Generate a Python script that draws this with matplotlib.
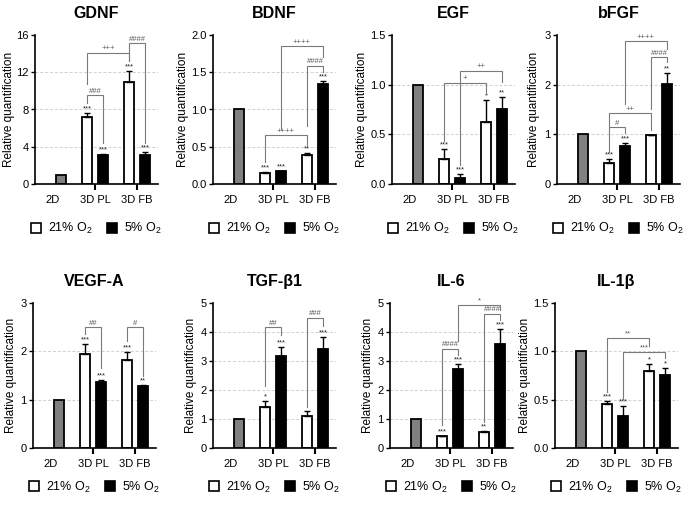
import matplotlib
matplotlib.use('Agg')
import matplotlib.pyplot as plt
from matplotlib.patches import Patch
import numpy as np

plt.rcParams['font.family'] = ['Liberation Sans', 'DejaVu Sans']
plt.rcParams['mathtext.fontset'] = 'custom'
plt.rcParams['mathtext.rm'] = 'Liberation Sans'
plt.rcParams['mathtext.it'] = 'Liberation Sans:italic'

# ---------------- data ----------------
groups = ['2D', '3D PL', '3D FB']
legend_labels = ['21% O$_2$', '5% O$_2$']
titles = ['GDNF', 'BDNF', 'EGF', 'bFGF', 'VEGF-A', 'TGF-β1', 'IL-6', 'IL-1β']
y_max = [16, 2.0, 1.5, 3, 3, 5, 5, 1.5]
y_step = [4, 0.5, 0.5, 1, 1, 1, 1, 0.5]

ctrl_2d = [1.0, 1.0, 1.0, 1.01, 1.0, 1.0, 1.0, 1.0]
o21_mean = [[7.15, 10.95], [0.145, 0.395], [0.25, 0.626], [0.43, 0.98],
            [1.95, 1.82], [1.43, 1.12], [0.40, 0.55], [0.455, 0.80]]
o21_err = [[0.5, 1.2], [0.02, 0.015], [0.10, 0.215], [0.07, 0.01],
           [0.20, 0.17], [0.19, 0.17], [0.02, 0.05], [0.035, 0.065]]
o5_mean = [[3.12, 3.12], [0.175, 1.34], [0.06, 0.757], [0.77, 2.02],
           [1.36, 1.28], [3.16, 3.41], [2.74, 3.60], [0.33, 0.76]]
o5_err = [[0.08, 0.3], [0.005, 0.045], [0.04, 0.12], [0.05, 0.22],
          [0.05, 0.03], [0.31, 0.41], [0.16, 0.50], [0.10, 0.07]]
o21_stars = [['***', '***'], ['***', '**'], ['***', '*'], ['***', ''],
             ['***', '***'], ['*', ''], ['***', '**'], ['***', '*']]
o5_stars = [['***', '***'], ['***', '***'], ['***', '**'], ['***', '**'],
            ['***', '**'], ['***', '***'], ['***', '***'], ['***', '*']]

# brackets: (bar a, bar b, label)  bars: 1=PL 21%, 2=PL 5%, 3=FB 21%, 4=FB 5%
bracket_pairs = [
    [(1, 2, '###'), (3, 4, '####'), (1, 3, '+++')],
    [(1, 3, '++++'), (3, 4, '####'), (2, 4, '++++')],
    [(1, 3, '+'), (2, 4, '++')],
    [(1, 2, '#'), (1, 3, '++'), (3, 4, '####'), (2, 4, '++++')],
    [(1, 2, '##'), (3, 4, '#')],
    [(1, 2, '##'), (3, 4, '###')],
    [(1, 2, '####'), (3, 4, '####'), (2, 4, '*')],
    [(1, 3, '**'), (2, 4, '***')],
]
# bracket heights in data units: (top, left leg end, right leg end)
bracket_levels = [
    [(9.55, 8.7, 4.4), (15.1, 13.3, 4.4), (14.1, 10.7, 13.2)],
    [(0.655, 0.30, 0.53), (1.59, 0.78, 1.50), (1.85, 0.74, 1.71)],
    [(1.02, 0.43, 0.93), (1.14, 0.19, 1.03)],
    [(1.14, 0.65, 1.02), (1.43, 1.16, 1.09), (2.55, 1.50, 2.45), (2.88, 1.62, 2.72)],
    [(2.50, 2.35, 1.65), (2.50, 2.22, 1.50)],
    [(4.16, 2.14, 3.88), (4.50, 1.43, 4.20)],
    [(3.43, 0.78, 3.22), (4.63, 0.88, 4.43), (4.94, 3.70, 4.77)],
    [(1.14, 0.58, 1.06), (0.99, 0.51, 0.93)],
]

# ---------------- layout ----------------
W, H = 685, 507
fig = plt.figure(figsize=(W / 100, H / 100), dpi=100)
lefts = [35, 213, 392, 557, 33, 213, 390, 555]
bottoms = [184] * 4 + [448] * 4
tops = [35] * 4 + [303] * 4
ylabel_px = [26, 30, 30, 23, 22, 22, 22, 30]
ax_w = 123
off = 0.19
bw = 0.24
bar_x = [0 + off, 1 - off, 1 + off, 2 - off, 2 + off]
br_color = '#7a7a7a'
title_font = ['Liberation Sans Narrow', 'Liberation Sans', 'DejaVu Sans']

for k in range(8):
    rect = [lefts[k] / W, (H - bottoms[k]) / H, ax_w / W, (bottoms[k] - tops[k]) / H]
    ax = fig.add_axes(rect)
    ax.set_xlim(-0.43, 2.5)
    ax.set_ylim(0, y_max[k])
    ticks = np.arange(0, y_max[k] + y_step[k] / 2, y_step[k])
    ax.set_yticks(ticks)
    if y_step[k] < 1:
        ax.set_yticklabels(['%.1f' % t for t in ticks])
    else:
        ax.set_yticklabels(['%d' % t for t in ticks])
    for t in ticks[1:-1]:
        ax.axhline(t, color='#d0d0d0', lw=0.7, ls=(0, (3, 2)), zorder=0)

    # bars
    ax.bar(bar_x[0], ctrl_2d[k], width=bw, color='#808080', edgecolor='black', lw=1.3, zorder=2)
    ax.bar([bar_x[1], bar_x[3]], o21_mean[k], width=bw, color='white', edgecolor='black', lw=1.3, zorder=2)
    ax.bar([bar_x[2], bar_x[4]], o5_mean[k], width=bw, color='black', edgecolor='black', lw=1.3, zorder=2)
    ax.errorbar([bar_x[1], bar_x[3]], o21_mean[k], yerr=[[0, 0], o21_err[k]], fmt='none',
                ecolor='black', elinewidth=1, capsize=2.5, capthick=1, zorder=3)
    ax.errorbar([bar_x[2], bar_x[4]], o5_mean[k], yerr=[[0, 0], o5_err[k]], fmt='none',
                ecolor='black', elinewidth=1, capsize=2.5, capthick=1, zorder=3)

    # stars
    for j in range(2):
        for xs, m, e, s in ((bar_x[1 + 2 * j], o21_mean[k][j], o21_err[k][j], o21_stars[k][j]),
                            (bar_x[2 + 2 * j], o5_mean[k][j], o5_err[k][j], o5_stars[k][j])):
            if s:
                ax.annotate(s, (xs, m + e), xytext=(0, 0.5), textcoords='offset points',
                            ha='center', va='bottom', fontsize=5.5, color='#222222')

    # brackets
    for (a, b, lab), (yt, ya, yb) in zip(bracket_pairs[k], bracket_levels[k]):
        xa, xb = bar_x[a], bar_x[b]
        ax.plot([xa, xa, xb, xb], [ya, yt, yt, yb], color=br_color, lw=0.8,
                clip_on=False, zorder=4, solid_joinstyle='miter')
        ax.annotate(lab, ((xa + xb) / 2, yt), xytext=(0, 0.3), textcoords='offset points',
                    ha='center', va='bottom', fontsize=5.5, color='#555555')

    # axes style
    for s in ('top', 'right'):
        ax.spines[s].set_visible(False)
    for s in ('left', 'bottom'):
        ax.spines[s].set_linewidth(1.2)
    ax.set_xticks([0, 1, 2])
    ax.set_xticklabels(groups)
    ax.xaxis.get_major_ticks()[0].tick1line.set_visible(False)
    ax.tick_params(axis='x', direction='out', length=4, width=1.5, pad=4, labelsize=8)
    ax.tick_params(axis='y', direction='out', length=3, width=1, pad=1.5, labelsize=8)
    ax.set_ylabel('Relative quantification', fontsize=8.5)
    ax.yaxis.set_label_coords(-ylabel_px[k] / ax_w, 0.5)
    ax.yaxis.label.set_verticalalignment('center')
    ax.set_title(titles[k], fontsize=11.5, fontweight='bold', pad=12, family=title_font)

    handles = [Patch(facecolor='white', edgecolor='black', lw=1.2),
               Patch(facecolor='black', edgecolor='black', lw=1.2)]
    ly = -0.30 if k < 4 else -0.27
    ax.legend(handles, legend_labels, loc='center', bbox_to_anchor=(0.5, ly), ncol=2,
              frameon=False, fontsize=9, handlelength=0.8, handleheight=0.8,
              handletextpad=0.6, columnspacing=1.1, borderaxespad=0, borderpad=0)

fig.savefig('out.png', dpi=100)
